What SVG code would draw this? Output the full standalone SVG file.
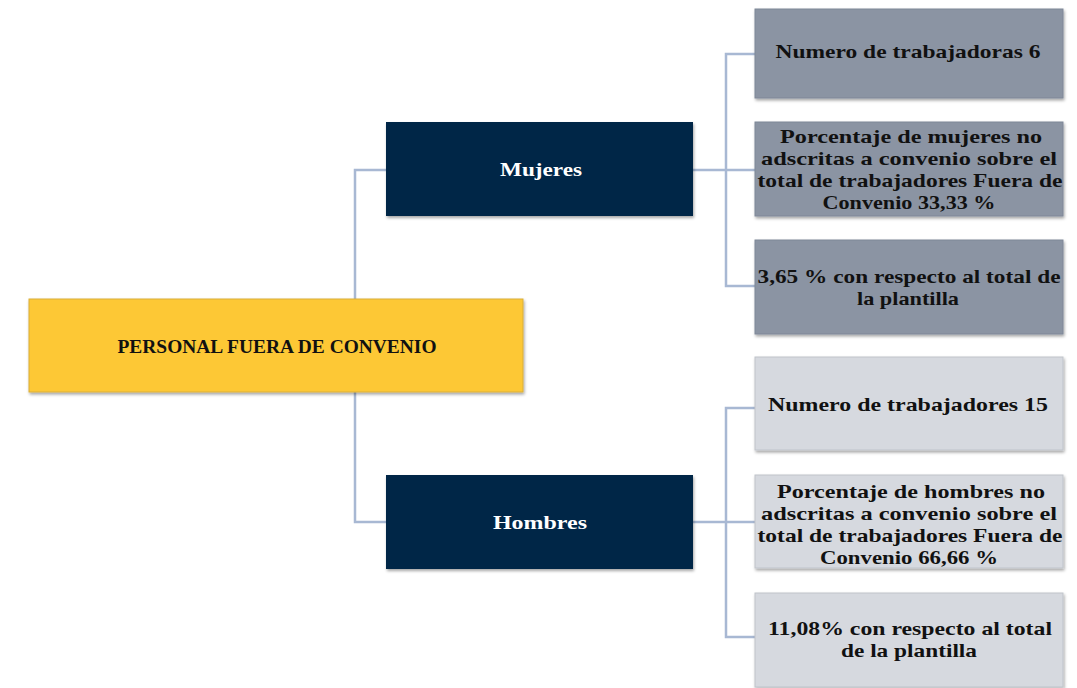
<svg xmlns="http://www.w3.org/2000/svg" width="1077" height="688" viewBox="0 0 1077 688">
<defs>
<filter id="sh" x="-5%" y="-5%" width="110%" height="120%">
<feDropShadow dx="1" dy="2" stdDeviation="1.5" flood-color="#000" flood-opacity="0.35"/>
</filter>
<style>
.t{font-family:"Liberation Serif","DejaVu Serif",serif;font-weight:bold;font-size:19px;text-anchor:middle;fill:#111;}
.w{fill:#fff;}
.root{fill:#FDC835;stroke:#D9AE3A;stroke-width:1;}
.mid{fill:#042546;}
.dk{fill:#8B94A3;stroke:#7F8797;stroke-width:1;}
.lt{fill:#D6D9DF;stroke:#BFC3CA;stroke-width:1;}
.c{fill:none;stroke:#A8B8D3;stroke-width:2.5;}
</style>
</defs>
<rect width="1077" height="688" fill="#fff"/>
<g id="connectors">
<path class="c" d="M355,299 V170 H386"/>
<path class="c" d="M355,392 V522 H386"/>
<path class="c" d="M693,170 H755 M726,170 V54 H755 M726,170 V286 H755"/>
<path class="c" d="M693,522 H755 M726,522 V408 H755 M726,522 V637 H755"/>
</g>
<g id="root">
<rect class="root" x="29" y="299" width="494" height="93" filter="url(#sh)"/>
<text class="t" x="277" y="353" textLength="319" lengthAdjust="spacingAndGlyphs">PERSONAL FUERA DE CONVENIO</text>
</g>
<g id="mujeres">
<rect class="mid" x="386" y="122" width="307" height="94" filter="url(#sh)"/>
<text class="t w" x="541" y="176" textLength="82" lengthAdjust="spacingAndGlyphs">Mujeres</text>
</g>
<g id="hombres">
<rect class="mid" x="386" y="475" width="307" height="94" filter="url(#sh)"/>
<text class="t w" x="540" y="529" textLength="94" lengthAdjust="spacingAndGlyphs">Hombres</text>
</g>
<g id="m1">
<rect class="dk" x="755" y="9" width="308" height="89" filter="url(#sh)"/>
<text class="t" x="908" y="58" textLength="265" lengthAdjust="spacingAndGlyphs">Numero de trabajadoras 6</text>
</g>
<g id="m2">
<rect class="dk" x="755" y="122" width="308" height="94" filter="url(#sh)"/>
<text class="t" x="911" y="143" textLength="262" lengthAdjust="spacingAndGlyphs">Porcentaje  de mujeres no</text>
<text class="t" x="909" y="165" textLength="296" lengthAdjust="spacingAndGlyphs">adscritas a convenio sobre el</text>
<text class="t" x="910" y="187" textLength="305" lengthAdjust="spacingAndGlyphs">total de trabajadores Fuera de</text>
<text class="t" x="909" y="209" textLength="173" lengthAdjust="spacingAndGlyphs">Convenio 33,33 %</text>
</g>
<g id="m3">
<rect class="dk" x="755" y="240" width="308" height="94" filter="url(#sh)"/>
<text class="t" x="909" y="283" textLength="303" lengthAdjust="spacingAndGlyphs">3,65 % con respecto al total de</text>
<text class="t" x="908" y="305" textLength="102" lengthAdjust="spacingAndGlyphs">la plantilla</text>
</g>
<g id="h1">
<rect class="lt" x="755" y="357" width="308" height="93" filter="url(#sh)"/>
<text class="t" x="908" y="411" textLength="280" lengthAdjust="spacingAndGlyphs">Numero de trabajadores 15</text>
</g>
<g id="h2">
<rect class="lt" x="755" y="475" width="308" height="93" filter="url(#sh)"/>
<text class="t" x="911" y="498" textLength="268" lengthAdjust="spacingAndGlyphs">Porcentaje  de hombres no</text>
<text class="t" x="909" y="520" textLength="296" lengthAdjust="spacingAndGlyphs">adscritas a convenio sobre el</text>
<text class="t" x="910" y="542" textLength="305" lengthAdjust="spacingAndGlyphs">total de trabajadores Fuera de</text>
<text class="t" x="909" y="564" textLength="178" lengthAdjust="spacingAndGlyphs">Convenio 66,66 %</text>
</g>
<g id="h3">
<rect class="lt" x="755" y="593" width="308" height="94" filter="url(#sh)"/>
<text class="t" x="910" y="635" textLength="284" lengthAdjust="spacingAndGlyphs">11,08% con respecto al total</text>
<text class="t" x="909" y="657" textLength="136" lengthAdjust="spacingAndGlyphs">de la plantilla</text>
</g>
</svg>
